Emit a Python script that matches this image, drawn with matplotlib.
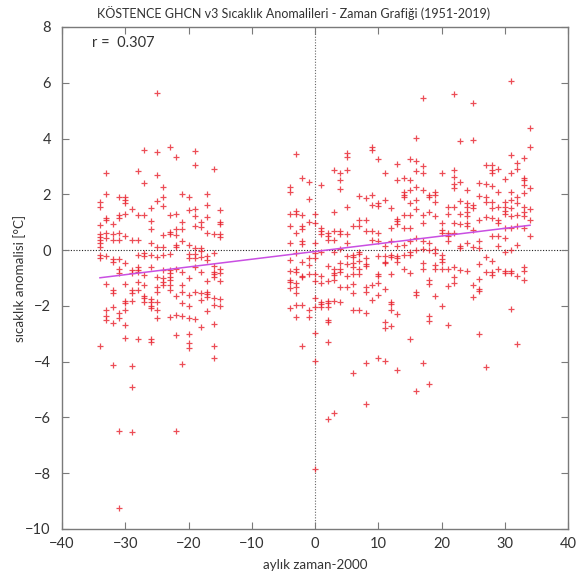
import matplotlib
matplotlib.use("Agg")
import matplotlib.pyplot as plt
import numpy as np

# Yearly columns of monthly temperature anomalies (°C), x = year - 2000
early_x = list(range(-34, -14))
early_anom = [
    [1.71, 1.55, 0.89, 0.57, 0.48, 0.36, 0.24, 0.1, -0.18, -0.3, -3.43],
    [2.76, 2.0, 1.15, 1.07, 0.6, 0.45, -0.2, -1.23, -2.14, -2.36, -2.52],
    [0.93, 0.57, 0.36, -0.33, -0.42, -1.43, -1.55, -2.05, -2.6, -4.13],
    [1.9, 1.26, 1.15, 0.62, 0.36, -0.32, -0.69, -0.83, -2.24, -2.45, -6.48, -9.23],
    [1.9, 1.81, 1.69, 1.31, 0.5, -0.48, -1.21, -1.81, -1.9, -2.14, -2.68, -3.15],
    [1.46, 0.38, -0.71, -0.83, -1.43, -1.55, -1.82, -4.14, -4.92, -6.52],
    [2.83, 1.25, 0.38, -0.18, -0.6, -0.7, -0.8, -1.15, -1.43, -3.17],
    [3.6, 2.4, 1.25, -0.12, -0.2, -0.9, -1.25, -1.64, -1.73, -1.86],
    [1.51, 1.04, 0.75, 0.27, -0.18, -0.6, -1.76, -1.85, -1.99, -2.08, -3.19, -3.31],
    [5.62, 3.51, 2.7, 1.76, 0.1, -0.26, -0.95, -1.31, -1.5, -1.85, -2.14, -2.44],
    [2.26, 1.9, 1.57, 0.54, 0.12, -0.18, -0.71, -1.01, -1.13, -1.25],
    [3.71, 1.26, 0.64, 0.57, -0.14, -0.71, -0.81, -0.95, -1.07, -1.25, -1.43, -2.4],
    [3.33, 1.31, 0.75, 0.55, 0.18, 0.12, -0.69, -1.64, -2.32, -3.04, -6.49],
    [2.0, 1.0, 0.74, 0.32, -0.77, -1.25, -1.49, -1.9, -2.38, -4.07],
    [1.9, 1.45, 0.2, -0.14, -0.3, -1.01, -1.61, -2.02, -2.44, -3.0, -3.33, -3.51],
    [3.54, 3.04, 1.49, 1.21, 0.87, 0.06, -0.14, -0.3, -0.6, -1.49, -2.48],
    [1.01, 0.83, 0.06, -0.02, -0.24, -0.8, -1.55, -1.79, -2.77],
    [2.0, 1.61, 1.19, 0.62, -0.21, -0.36, -1.1, -1.49, -1.57, -1.69, -2.18],
    [2.92, 0.57, -0.1, -0.57, -0.77, -0.86, -0.95, -1.73, -1.96, -2.65, -3.45, -3.87],
    [1.45, 1.01, 0.93, 0.57, 0.48, -0.69, -0.83, -1.1, -1.76, -2.02],
]

late_x = list(range(-4, 35))
late_anom = [
    [2.25, 2.1, 1.3, 0.87, 0.25, -0.36, -0.74, -1.08, -1.16, -1.35, -2.09],
    [3.45, 1.39, 1.3, 0.63, -0.12, -0.66, -0.78, -1.17, -1.31, -1.53, -1.97, -2.41],
    [2.58, 1.27, 0.87, 0.75, 0.31, 0.22, -0.42, -0.93, -0.98, -1.97, -3.44],
    [2.46, 1.83, 1.0, -0.3, -0.54, -0.86, -2.13, -2.39],
    [1.3, 0.97, 0.27, -0.1, -0.3, -0.86, -1.1, -1.73, -2.03, -2.96, -3.97, -7.86],
    [2.35, 0.79, 0.7, 0.59, -0.08, -0.93, -1.19, -1.85, -1.94, -2.03],
    [0.61, 0.49, 0.37, -0.57, -1.1, -1.82, -1.91, -2.03, -2.49, -2.57, -3.29, -6.07],
    [2.88, 1.35, 0.7, 0.37, -0.06, -0.66, -0.81, -0.9, -1.08, -1.82, -5.85],
    [2.78, 2.52, 2.19, 0.7, 0.59, 0.04, -0.48, -0.69, -0.78, -1.31, -1.85],
    [3.48, 3.33, 2.88, 1.53, 0.59, 0.27, -0.22, -0.5, -0.93, -1.34],
    [0.88, -0.18, -0.26, -0.45, -0.6, -0.84, -1.22, -1.53, -2.13, -4.42],
    [1.95, 1.09, 0.85, -0.08, -0.14, -0.4, -0.66, -0.84, -2.13],
    [1.86, 1.09, 0.67, -0.3, -0.5, -0.57, -1.31, -1.49, -2.27, -4.04, -5.52],
    [3.69, 3.6, 1.98, 1.62, 0.67, 0.37, -1.25, -1.79],
    [3.26, 1.68, 1.59, 0.61, 0.31, -0.22, -0.84, -0.93, -1.19, -1.61, -3.88],
    [2.76, 1.78, 0.16, -0.22, -0.42, -0.48, -1.41, -2.57, -2.81, -3.97],
    [1.5, 0.8, 0.31, -0.18, -0.26, -0.84, -1.85, -1.94, -2.15, -2.72],
    [3.08, 2.5, 1.11, 1.03, 0.94, 0.13, -0.22, -0.3, -0.42, -2.29, -4.3],
    [2.58, 2.1, 1.98, 1.89, 1.27, 0.79, 0.19, -0.18, -0.69],
    [3.26, 2.52, 2.16, 1.68, 1.27, 0.79, 0.31, -0.05, -0.18, -0.81, -3.2],
    [4.01, 3.21, 2.82, 2.26, 1.8, 1.47, 0.43, 0.01, -1.49, -1.61, -5.04],
    [5.45, 3.02, 2.78, 2.16, 1.27, 0.97, 0.31, 0.04, -0.45, -0.69, -4.05],
    [1.98, 1.92, 1.38, 0.27, 0.0, -1.08, -1.2, -2.35, -2.55, -4.81],
    [2.07, 1.98, 1.71, 1.21, 0.04, -0.1, -0.52, -0.68, -1.63],
    [2.76, 0.99, 0.73, 0.63, -0.17, -0.32, -0.44, -0.68, -1.99],
    [1.56, 1.3, 0.61, 0.5, 0.31, -0.68, -1.27, -2.67],
    [5.6, 2.86, 2.62, 2.38, 2.22, 1.56, 0.99, 0.61, -0.61, -0.96, -1.18],
    [3.93, 2.43, 1.75, 1.3, 0.93, 0.16, 0.07, -0.7],
    [2.16, 1.68, 1.56, 1.35, 1.21, 0.97, 0.85, 0.25, -0.76],
    [5.26, 3.95, 1.62, 1.5, 0.73, 0.11, -1.24, -1.68],
    [2.4, 1.95, 1.09, 0.31, 0.07, -0.49, -1.04, -1.39, -1.48, -3.0],
    [3.06, 2.38, 1.92, 1.71, 1.18, -0.25, -0.79, -4.19],
    [3.06, 2.88, 2.76, 2.3, 1.71, 1.5, 1.15, 0.49, -0.4, -0.8, -0.88],
    [2.9, 2.07, 1.56, 1.09, 0.97, 0.49, 0.13, -0.68],
    [2.55, 1.71, 1.56, 1.39, 1.3, 0.79, 0.43, -0.08, -0.76, -0.82],
    [6.05, 3.42, 2.78, 2.1, 1.78, 1.5, 1.21, 0.79, 0.0, -0.76, -0.82, -2.1],
    [3.14, 2.9, 1.92, 1.68, 1.27, 0.85, 0.19, -0.92, -3.35],
    [3.3, 2.58, 2.5, 2.34, 2.04, 1.56, 1.35, 1.21, 0.79, -0.61, -0.76, -1.08],
    [4.37, 3.69, 2.24, 1.47, 1.09, 0.49],
]

# Linear trend (°C per year, °C at x = 0) and correlation coefficient
trend_slope = 0.0277
trend_intercept = -0.05
trend_range = [-34, 34]
r_value = 0.307

x_ticks = list(range(-40, 41, 10))
y_ticks = list(range(-10, 9, 2))

title_text = "KÖSTENCE GHCN v3 Sıcaklık Anomalileri - Zaman Grafiği (1951-2019)"
xlabel_text = "aylık zaman-2000"
ylabel_text = "sıcaklık anomalisi [°C]"

plt.rcParams["font.family"] = ["Lato", "DejaVu Sans"]

xs, ys = [], []
for xv, col in zip(early_x + late_x, early_anom + late_anom):
    xs.extend([xv] * len(col))
    ys.extend(col)
xs = np.array(xs, dtype=float)
ys = np.array(ys, dtype=float)

fig = plt.figure(figsize=(5.76, 5.79), dpi=100)
ax = fig.add_axes([62 / 576, 1 - 529 / 579, (568 - 62) / 576, (529 - 27) / 579])

frame_col = "#7a7a7a"
text_col = "#333333"

# zero reference lines
ax.axhline(0, color="#222222", lw=0.8, ls=(0, (1, 1.5)), zorder=1)
ax.axvline(0, color="#666666", lw=0.8, ls=(0, (1, 1.5)), zorder=1)

ax.plot(xs, ys, ls="none", marker="+", ms=4.8, mew=0.9, color="#e8202c", alpha=0.8, zorder=2)

tx = np.array(trend_range, dtype=float)
ax.plot(tx, trend_slope * tx + trend_intercept, color="#c94fe2", lw=1.1, zorder=3)

ax.set_xlim(-40, 40)
ax.set_ylim(-10, 8)
ax.set_xticks(x_ticks)
ax.set_yticks(y_ticks)
ax.tick_params(direction="in", length=5, width=0.8, color=frame_col,
               labelsize=10.5, labelcolor=text_col, top=True, right=True,
               labeltop=False, labelright=False)
ax.tick_params(axis="x", pad=6)
ax.tick_params(axis="y", pad=8)
for sp in ax.spines.values():
    sp.set_color(frame_col)
    sp.set_linewidth(1.0)

ax.text(-35.3, 7.42, f"r =  {r_value:.3f}", fontsize=10.5, color=text_col,
        ha="left", va="center")

fig.text(0.51, 0.977, title_text, ha="center", va="center", fontsize=9.0, color=text_col)
ax.set_xlabel(xlabel_text, fontsize=9.6, color=text_col)
ax.set_ylabel(ylabel_text, fontsize=9.6, color=text_col)
ax.xaxis.set_label_coords(0.5, -0.072)
ax.yaxis.set_label_coords(-0.083, 0.5)
ax.xaxis.label.set_va("center")
ax.yaxis.label.set_va("center")

fig.savefig("out.png", dpi=100)
